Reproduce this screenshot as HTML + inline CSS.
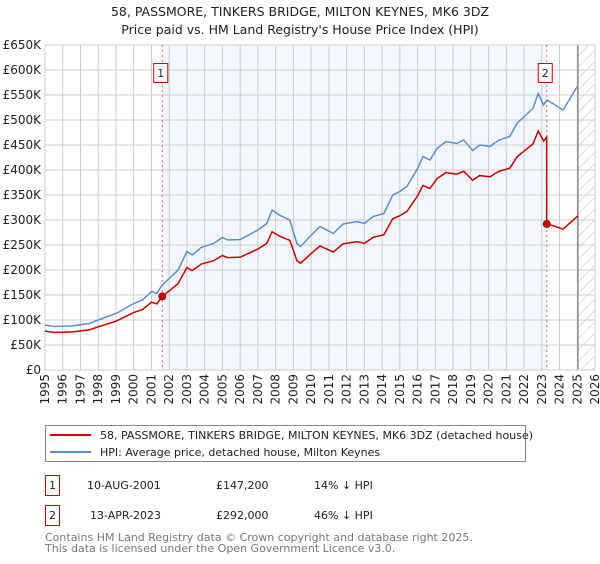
<!DOCTYPE html>
<html><head><meta charset="utf-8"><style>
body{margin:0;background:#fff;font-family:"DejaVu Sans","Liberation Sans",sans-serif;}
svg text{font-family:"DejaVu Sans","Liberation Sans",sans-serif;}
</style></head><body>
<svg id="chart" width="600" height="560" viewBox="0 0 600 560" xmlns="http://www.w3.org/2000/svg">
<defs><pattern id="hatch" width="8" height="8" patternUnits="userSpaceOnUse" patternTransform="rotate(45)"><line x1="0" y1="0" x2="0" y2="8" stroke="#bbb" stroke-width="1"/></pattern></defs>
<text x="300" y="16" text-anchor="middle" font-size="12.5" fill="#222">58, PASSMORE, TINKERS BRIDGE, MILTON KEYNES, MK6 3DZ</text>
<text x="300" y="34" text-anchor="middle" font-size="12.5" fill="#222">Price paid vs. HM Land Registry's House Price Index (HPI)</text>
<g id="plot"></g>
<rect x="45.5" y="425.5" width="480" height="36" fill="#fff" stroke="#888"/>
<line x1="50" y1="435" x2="91" y2="435" stroke="#cc0000" stroke-width="2"/>
<text x="100" y="439" font-size="11" fill="#222">58, PASSMORE, TINKERS BRIDGE, MILTON KEYNES, MK6 3DZ (detached house)</text>
<line x1="50" y1="452" x2="91" y2="452" stroke="#5b8fd0" stroke-width="2"/>
<text x="100" y="456" font-size="11" fill="#222">HPI: Average price, detached house, Milton Keynes</text>
<rect x="45.5" y="475.5" width="14" height="20" fill="#fff" stroke="#cc0000"/>
<text x="52.5" y="489" text-anchor="middle" font-size="11" fill="#222">1</text>
<text x="87" y="489" font-size="11" fill="#222">10-AUG-2001</text>
<text x="216" y="489" font-size="11" fill="#222">£147,200</text>
<text x="314" y="489" font-size="11" fill="#222">14% ↓ HPI</text>
<rect x="45.5" y="505.5" width="14" height="20" fill="#fff" stroke="#cc0000"/>
<text x="52.5" y="519" text-anchor="middle" font-size="11" fill="#222">2</text>
<text x="90" y="519" font-size="11" fill="#222">13-APR-2023</text>
<text x="216" y="519" font-size="11" fill="#222">£292,000</text>
<text x="314" y="519" font-size="11" fill="#222">46% ↓ HPI</text>
<text x="45" y="541" font-size="11" fill="#777">Contains HM Land Registry data © Crown copyright and database right 2025.</text>
<text x="45" y="552" font-size="11" fill="#777">This data is licensed under the Open Government Licence v3.0.</text>
</svg>
<script>
const hpiYears=[1995.0,1995.5,1996.5,1997.5,1998.0,1999.0,2000.0,2000.5,2001.0,2001.3,2001.6,2002.0,2002.5,2003.0,2003.3,2003.8,2004.5,2005.0,2005.3,2006.0,2007.0,2007.5,2007.8,2008.2,2008.8,2009.2,2009.4,2010.1,2010.5,2011.25,2011.8,2012.6,2013.0,2013.5,2014.1,2014.6,2015.0,2015.4,2016.0,2016.3,2016.7,2017.1,2017.6,2018.2,2018.6,2019.1,2019.5,2020.1,2020.3,2020.6,2021.2,2021.6,2022.1,2022.5,2022.8,2023.1,2023.3,2024.2,2025.0];
const hpiValues=[90,87,88,93,100,113,133,140,157,153,170,183,200,237,230,245,253,265,260,261,280,293,320,310,300,253,247,273,287,273,292,297,293,307,313,350,357,367,403,427,420,443,457,453,460,439,450,447,453,460,467,493,510,523,553,530,540,520,567];
const saleYears=[2001.61,2023.28];
const salePrices=[147.2,292.0];
const yTicks=[0,50,100,150,200,250,300,350,400,450,500,550,600,650];
const xTickYears=[1995,1996,1997,1998,1999,2000,2001,2002,2003,2004,2005,2006,2007,2008,2009,2010,2011,2012,2013,2014,2015,2016,2017,2018,2019,2020,2021,2022,2023,2024,2025,2026];

const X0=45,X1=595,Y0=370,Y1=45,dataEnd=2025.04;
const xs=y=>X0+(y-1995)/(2026-1995)*(X1-X0);
const ys=v=>Y0-v/650*(Y0-Y1);
const NS="http://www.w3.org/2000/svg";
const plot=document.getElementById('plot');
function mk(tag,attrs,parent){const e=document.createElementNS(NS,tag);for(const k in attrs)e.setAttribute(k,attrs[k]);(parent||plot).appendChild(e);return e;}
function hpiAt(t){for(let i=0;i<hpiYears.length-1;i++){if(t<=hpiYears[i+1]){const f=(t-hpiYears[i])/(hpiYears[i+1]-hpiYears[i]);return hpiValues[i]+f*(hpiValues[i+1]-hpiValues[i]);}}return hpiValues[hpiValues.length-1];}

let r=mk('rect',{x:X0,y:Y1,width:X1-X0,height:Y0-Y1,fill:'#fff'});


r=mk('rect',{x:xs(saleYears[0]),y:Y1,width:xs(saleYears[1])-xs(saleYears[0]),height:Y0-Y1,fill:'#f2f6fd'});


r=mk('rect',{x:xs(dataEnd),y:Y1,width:X1-xs(dataEnd),height:Y0-Y1,fill:'url(#hatch)'});



yTicks.forEach(v=>{
  const l=mk('line',{x1:X0,x2:X1,y1:ys(v),y2:ys(v),stroke:'#ccc','stroke-width':1});
  
  
  const t=mk('text',{x:X0-4,y:ys(v)+4,'text-anchor':'end','font-size':12,fill:'#222'});
  t.textContent=v===0?'£0':'£'+v+'K';
  
  
});
xTickYears.forEach(yr=>{
  const l=mk('line',{x1:xs(yr),x2:xs(yr),y1:Y1,y2:Y0,stroke:'#ccc','stroke-width':1});
  
  
  const t=mk('text',{x:0,y:0,'text-anchor':'end','font-size':12,fill:'#222',transform:`translate(${xs(yr)+4},374) rotate(-90)`});
  t.textContent=yr;
  
  
});
let el=mk('line',{x1:xs(dataEnd),x2:xs(dataEnd),y1:Y1,y2:Y0,stroke:'#777','stroke-width':1.2});


el=mk('rect',{x:X0,y:Y1,width:X1-X0,height:Y0-Y1,fill:'none',stroke:'#ccc'});



saleYears.forEach((sy,i)=>{
  const l=mk('line',{x1:xs(sy),x2:xs(sy),y1:Y1,y2:Y0,stroke:'#e06060','stroke-width':1,'stroke-dasharray':'2,3'});
  
  
});

let d=hpiYears.map((y,i)=>(i?'L':'M')+xs(y).toFixed(1)+','+ys(hpiValues[i]).toFixed(1)).join(' ');
el=mk('path',{d:d,fill:'none',stroke:'#5b8fd0','stroke-width':1.5});



const pts=[];
const grid=[];
for(let t=1995;t<=dataEnd+1e-6;t+=0.02)grid.push(+t.toFixed(3));
saleYears.forEach(s=>grid.push(s-0.0001,s));
grid.push(dataEnd);grid.sort((a,b)=>a-b);
grid.forEach(t=>{
  let k=0;for(let i=0;i<saleYears.length;i++)if(t>=saleYears[i])k=i;
  const v=salePrices[k]*hpiAt(t)/hpiAt(saleYears[k]);
  pts.push(xs(t).toFixed(1)+','+ys(v).toFixed(1));
});
el=mk('path',{d:'M'+pts.join(' L'),fill:'none',stroke:'#cc0000','stroke-width':1.5});



saleYears.forEach((sy,i)=>{
  const c=mk('circle',{cx:xs(sy),cy:ys(salePrices[i]),r:4,fill:'#cc0000'});
  
  
  const b=mk('rect',{x:xs(sy)-8.5,y:63.5,width:14,height:19,fill:'#fff',stroke:'#cc0000'});
  
  
  const t=mk('text',{x:xs(sy)-1.5,y:77,'text-anchor':'middle','font-size':11,fill:'#222'});
  t.textContent=String(i+1);
  
  
});
</script>
</body></html>
